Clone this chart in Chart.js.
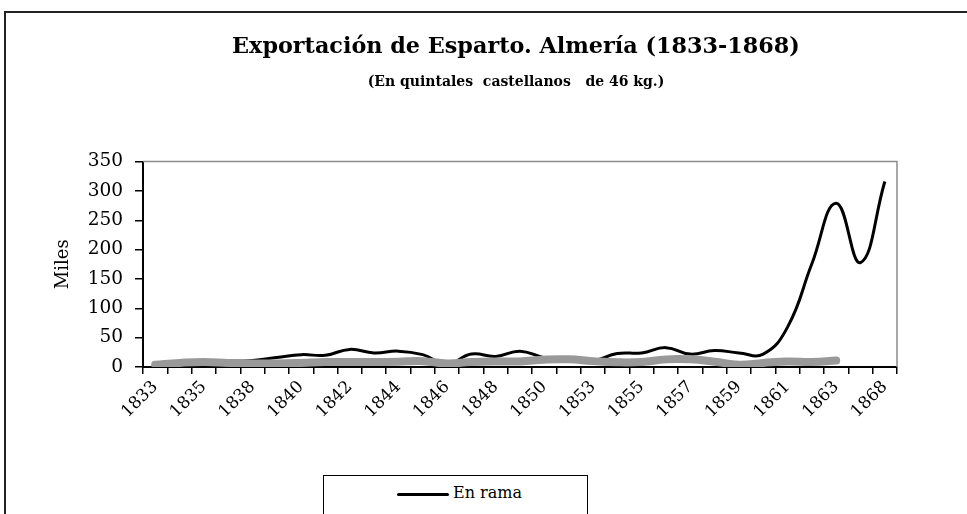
<!DOCTYPE html>
<html>
<head>
<meta charset="utf-8">
<script src="https://cdn.jsdelivr.net/npm/chart.js@4"></script>
<style>
  html, body { margin: 0; padding: 0; background: #fff; overflow: hidden; }
  body { width: 967px; height: 514px; position: relative; }
  #frame { position: absolute; left: 4px; top: 11px; width: 1200px; height: 700px; border: 2px solid #222; }
  #wrap { position: absolute; left: 0; top: 0; width: 1032px; height: 514px; }
  #legend { position: absolute; left: 323px; top: 475px; width: 263px; height: 60px; border: 1.5px solid #000;
            background: #fff; font-family: "DejaVu Serif", serif; font-size: 16px; }
  #legend .swatch { position: absolute; left: 73px; top: 17px; width: 52px; height: 3px; background: #000; border-radius: 2px; }
  #legend .txt { position: absolute; left: 129px; top: 7px; }
</style>
</head>
<body>
<div id="frame"></div>
<div id="wrap"><canvas id="lineChart" width="1032" height="514"></canvas></div>
<div id="legend"><span class="swatch"></span><span class="txt">En rama</span></div>
<script>
let chart = document.getElementById("lineChart");

let years = [
  "1833", "1834", "1835", "1836", "1838", "1839", "1840", "1841",
  "1842", "1843", "1844", "1845", "1846", "1847", "1848", "1849",
  "1850", "1851", "1853", "1854", "1855", "1856", "1857", "1858",
  "1859", "1860", "1861", "1862", "1863", "1864", "1868",
];
// miles de quintales
let enRama = [
  5, 6, 7, 9, 11, 16, 21, 20,
  30, 24, 27, 21, 5, 22, 18, 27,
  16, 14, 11, 23, 24, 33, 22, 28,
  24, 22, 68, 176, 279, 178, 316,
];
let labrado = [
  4, 7, 8.5, 7, 6, 6, 7, 8.5,
  8.5, 8.5, 9, 10, 6, 8.5, 9.5, 9.5,
  12.5, 13, 10, 8, 8.5, 13, 13, 9,
  4, 7, 9.5, 8.5, 11, null, null,
];
let yTicks = [0, 50, 100, 150, 200, 250, 300, 350];

const serif = "'DejaVu Serif', serif";

// gray top/right edges of the plot area
const plotEdges = {
  id: "plotEdges",
  beforeDatasetsDraw(c) {
    const a = c.chartArea;
    const ctx = c.ctx;
    ctx.save();
    ctx.strokeStyle = "#8c8c8c";
    ctx.lineWidth = 1.5;
    ctx.beginPath();
    ctx.moveTo(a.left, a.top);
    ctx.lineTo(a.right, a.top);
    ctx.lineTo(a.right, a.bottom);
    ctx.stroke();
    ctx.restore();
  },
};

new Chart(chart, {
  type: "line",
  data: {
    labels: years,
    datasets: [
      {
        label: "En rama",
        data: enRama,
        borderColor: "#000",
        borderWidth: 3,
        tension: 0.45,
        pointRadius: 0,
        order: 2,
      },
      {
        label: "Labrado",
        data: labrado,
        borderColor: "#999",
        borderWidth: 8,
        borderCapStyle: "round",
        tension: 0.45,
        pointRadius: 0,
        order: 1,
      },
    ],
  },
  plugins: [plotEdges],
  options: {
    responsive: false,
    animation: false,
    layout: { padding: { left: 50, right: 50, top: 0, bottom: 0 } },
    plugins: {
      legend: { display: false },
      tooltip: { enabled: false },
      title: {
        display: true,
        text: "Exportación de Esparto. Almería (1833-1868)",
        color: "#000",
        font: { family: serif, size: 22.3, weight: "bold" },
        padding: { top: 34, bottom: 13 },
      },
      subtitle: {
        display: true,
        text: "(En quintales  castellanos   de 46 kg.)",
        color: "#000",
        font: { family: serif, size: 14, weight: "bold" },
        padding: { top: 0, bottom: 71 },
      },
    },
    scales: {
      x: {
        offset: true,
        afterFit: (s) => { s.height = 147; },
        grid: { offset: true, drawOnChartArea: false, color: "#000", lineWidth: 1.5, tickLength: 7 },
        border: { color: "#000", width: 2 },
        ticks: {
          autoSkip: false,
          maxRotation: 45,
          minRotation: 45,
          color: "#000",
          font: { family: serif, size: 17 },
          callback: function (v, i) { return i % 2 === 0 ? years[i] : ""; },
        },
      },
      y: {
        min: 0,
        max: 350,
        afterFit: (s) => { s.width = 93; },
        afterBuildTicks: (s) => { s.ticks = yTicks.map((v) => ({ value: v })); },
        grid: { drawOnChartArea: false, color: "#000", lineWidth: 1.5, tickLength: 8 },
        border: { color: "#000", width: 2 },
        ticks: { color: "#000", padding: 12, font: { family: serif, size: 18.5 } },
        title: {
          display: true,
          text: "Miles",
          color: "#000",
          font: { family: serif, size: 18 },
          padding: { top: 3, bottom: 3 },
        },
      },
      // empty space on the right so the titles sit centred on the whole frame
      yRight: {
        type: "linear",
        position: "right",
        afterFit: (s) => { s.width = 85; },
        grid: { display: false },
        border: { display: false },
        ticks: { display: false },
      },
    },
  },
});
</script>
</body>
</html>
